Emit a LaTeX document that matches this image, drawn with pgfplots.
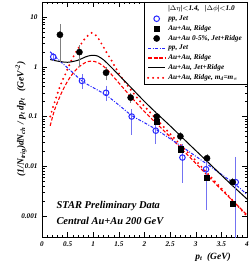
\documentclass[border=0pt]{standalone}
\usepackage{fontspec}
\setmainfont{Liberation Serif}
\usepackage{pgfplots}
\pgfplotsset{compat=1.18}
\definecolor{rblue}{rgb}{0.15,0.15,1}
\definecolor{lblue}{rgb}{0.45,0.45,0.95}
\begin{document}
\begin{tikzpicture}[x=1bp,y=1bp]
\useasboundingbox (0,0) rectangle (250,267);
\begin{axis}[
  at={(42bp,30bp)}, anchor=south west,
  scale only axis, width=205bp, height=235bp,
  xmin=0, xmax=4, ymode=log, ymin=3.8e-4, ymax=20,
  axis line style={line width=0.5pt},
  xtick={0,0.5,1,1.5,2,2.5,3,3.5,4},
  xticklabels={0,0.5,1,1.5,2,2.5,3,3.5,4},
  minor x tick num=4,
  ytick={0.001,0.01,0.1,1,10},
  yticklabels={0.001,0.01,0.1,1,10},
  tick align=inside, tick pos=both,
  major tick length=5bp, minor tick length=2.5bp,
  tick style={line width=0.4pt, black},
  ticklabel style={font=\fontsize{7.2}{8}\selectfont\bfseries\itshape},
  /pgf/number format/assume math mode=true,
  xticklabel style={yshift=-1bp},
  yticklabel style={xshift=-1bp},
  legend style={at={(1,1)}, anchor=north east, draw=black, line width=0.4pt, fill=white,
     font=\fontsize{7.3}{8.2}\selectfont\bfseries\itshape, row sep=-0.6bp,
     inner xsep=3bp, inner ysep=1.5bp},
  legend cell align=left,
]
% legend
\addlegendimage{empty legend}
\addlegendentry{|$\Delta\eta$|$<$1.4, \ \ |$\Delta\phi$|$<$1.0}
\addlegendimage{only marks, mark=o, mark size=2.8bp, rblue, mark options={line width=1pt}}
\addlegendentry{pp, Jet}
\addlegendimage{only marks, mark=square*, mark size=2.6bp, black}
\addlegendentry{Au+Au, Ridge}
\addlegendimage{only marks, mark=*, mark size=3.1bp, black}
\addlegendentry{Au+Au 0-5\%, Jet+Ridge}
\addlegendimage{rblue, line width=1pt, dash pattern=on 3pt off 1.5pt on 1pt off 1.5pt}
\addlegendentry{pp, Jet}
\addlegendimage{red, line width=1.1pt, dash pattern=on 3.5pt off 2pt}
\addlegendentry{Au+Au, Ridge}
\addlegendimage{black, line width=1pt}
\addlegendentry{Au+Au, Jet+Ridge}
\addlegendimage{red, line width=2.2pt, line cap=round, dash pattern=on 0pt off 5pt}
\addlegendentry{Au+Au, Ridge, m\textsubscript{d}=m\textsubscript{$\pi$}}

% red dotted: Ridge, md = mpi
\addplot[forget plot, red, line width=2.2pt, line cap=round, dash pattern=on 0pt off 5pt, smooth] coordinates {
(0.16,0.10) (0.22,0.16) (0.35,0.40) (0.45,0.69) (0.58,1.38) (0.71,2.36) (0.84,3.7) (0.97,4.8)
(1.07,4.1) (1.17,2.8) (1.27,1.87) (1.37,1.26) (1.46,0.87) (1.6,0.52) (1.8,0.28) (2.0,0.16)
(2.25,0.085) (2.5,0.045) (2.75,0.024) (3.0,0.013) (3.25,0.0068) (3.5,0.0036) (3.75,0.0019) (4.0,0.001)};
% red dashed: Ridge
\addplot[forget plot, red, line width=1.1pt, dash pattern=on 3.5pt off 2pt, smooth] coordinates {
(0.16,0.065) (0.25,0.14) (0.4,0.33) (0.55,0.62) (0.7,0.95) (0.85,1.22) (0.97,1.30) (1.1,1.2)
(1.25,0.92) (1.4,0.62) (1.6,0.36) (1.8,0.21) (2.0,0.125) (2.25,0.07) (2.5,0.039) (2.75,0.021)
(3.0,0.0115) (3.25,0.0062) (3.5,0.0034) (3.75,0.0019) (4.0,0.00105)};
% blue dash-dot: pp jet
\addplot[forget plot, rblue, line width=1pt, dash pattern=on 3pt off 1.5pt on 1pt off 1.5pt, smooth] coordinates {
(0.16,2.0) (0.3,1.45) (0.5,0.95) (0.78,0.52) (1.0,0.38) (1.25,0.27) (1.5,0.17) (1.75,0.105)
(2.0,0.075) (2.25,0.053) (2.75,0.024) (3.25,0.0105) (3.75,0.0045) (4.0,0.0027)};
% black solid: Jet+Ridge
\addplot[forget plot, black, line width=1pt, smooth] coordinates {
(0.16,1.40) (0.3,1.30) (0.5,1.23) (0.7,1.35) (0.85,1.58) (0.97,1.70) (1.08,1.65) (1.2,1.38)
(1.35,0.98) (1.5,0.68) (1.75,0.37) (2.0,0.20) (2.25,0.113) (2.5,0.065) (2.9,0.026) (3.25,0.0118)
(3.6,0.0053) (4.0,0.0022)};

% blue open circles: pp, Jet
\addplot[forget plot, only marks, mark=o, mark size=2.8bp, rblue, mark options={line width=1pt},
  error bars/.cd, y dir=both, y explicit, error mark=-, error bar style={lblue, line width=0.8pt}, error mark options={lblue, line width=0.8pt, mark size=2.5bp}]
coordinates {
(0.22,1.58) += (0,0.12) -= (0,0.12)
(0.78,0.52) += (0,0.11) -= (0,0.12)
(1.25,0.30) += (0,0.07) -= (0,0.07)
(1.75,0.10) += (0,0.026) -= (0,0.052)
(2.22,0.052) += (0,0.015) -= (0,0.02)
(2.74,0.015) += (0,0.010) -= (0,0.0098)
(3.2,0.0087) += (0,0.004) -= (0,0.0072)
(3.78,0.0048) += (0,0.009) -= (0,0.0047)
};
% black circles: Au+Au 0-5%, Jet+Ridge
\addplot[forget plot, only marks, mark=*, mark size=3.1bp, black,
  error bars/.cd, y dir=both, y explicit, error mark=-, error bar style={gray, line width=0.8pt}, error mark options={gray, line width=0.8pt, mark size=2.5bp}]
coordinates {
(0.35,4.4) += (0,2.0) -= (0,3.0)
(0.73,1.97) += (0,0.46) -= (0,0.84)
(1.25,0.76) += (0,0.12) -= (0,0.16)
(1.73,0.24) += (0,0.03) -= (0,0.03)
(2.24,0.10) += (0,0.01) -= (0,0.01)
(2.7,0.040) += (0,0.003) -= (0,0.003)
(3.22,0.0145) += (0,0.001) -= (0,0.001)
(3.72,0.0048) += (0,0.0005) -= (0,0.0005)
};
% black squares: Au+Au, Ridge
\addplot[forget plot, only marks, mark=square*, mark size=2.6bp, black] coordinates {
(2.24,0.078) (2.7,0.022) (3.22,0.0058) (3.72,0.0018)};
\end{axis}
\node[font=\fontsize{10.5}{12}\selectfont\bfseries\itshape, anchor=west] at (53,61) {STAR Preliminary Data};
\node[font=\fontsize{10.5}{12}\selectfont\bfseries\itshape, anchor=west] at (53,46) {Central Au+Au 200 GeV};
\node[font=\fontsize{9.5}{10}\selectfont\bfseries\itshape] at (213,10) {p\textsubscript{t} \ (GeV)};
\node[font=\fontsize{9.5}{10}\selectfont\bfseries\itshape, rotate=90] at (21,148)
  {(1/N\textsubscript{trig})dN\textsubscript{ch} / p\textsubscript{t} dp\textsubscript{t} \ \ (GeV\textsuperscript{-2})};
\end{tikzpicture}
\end{document}
